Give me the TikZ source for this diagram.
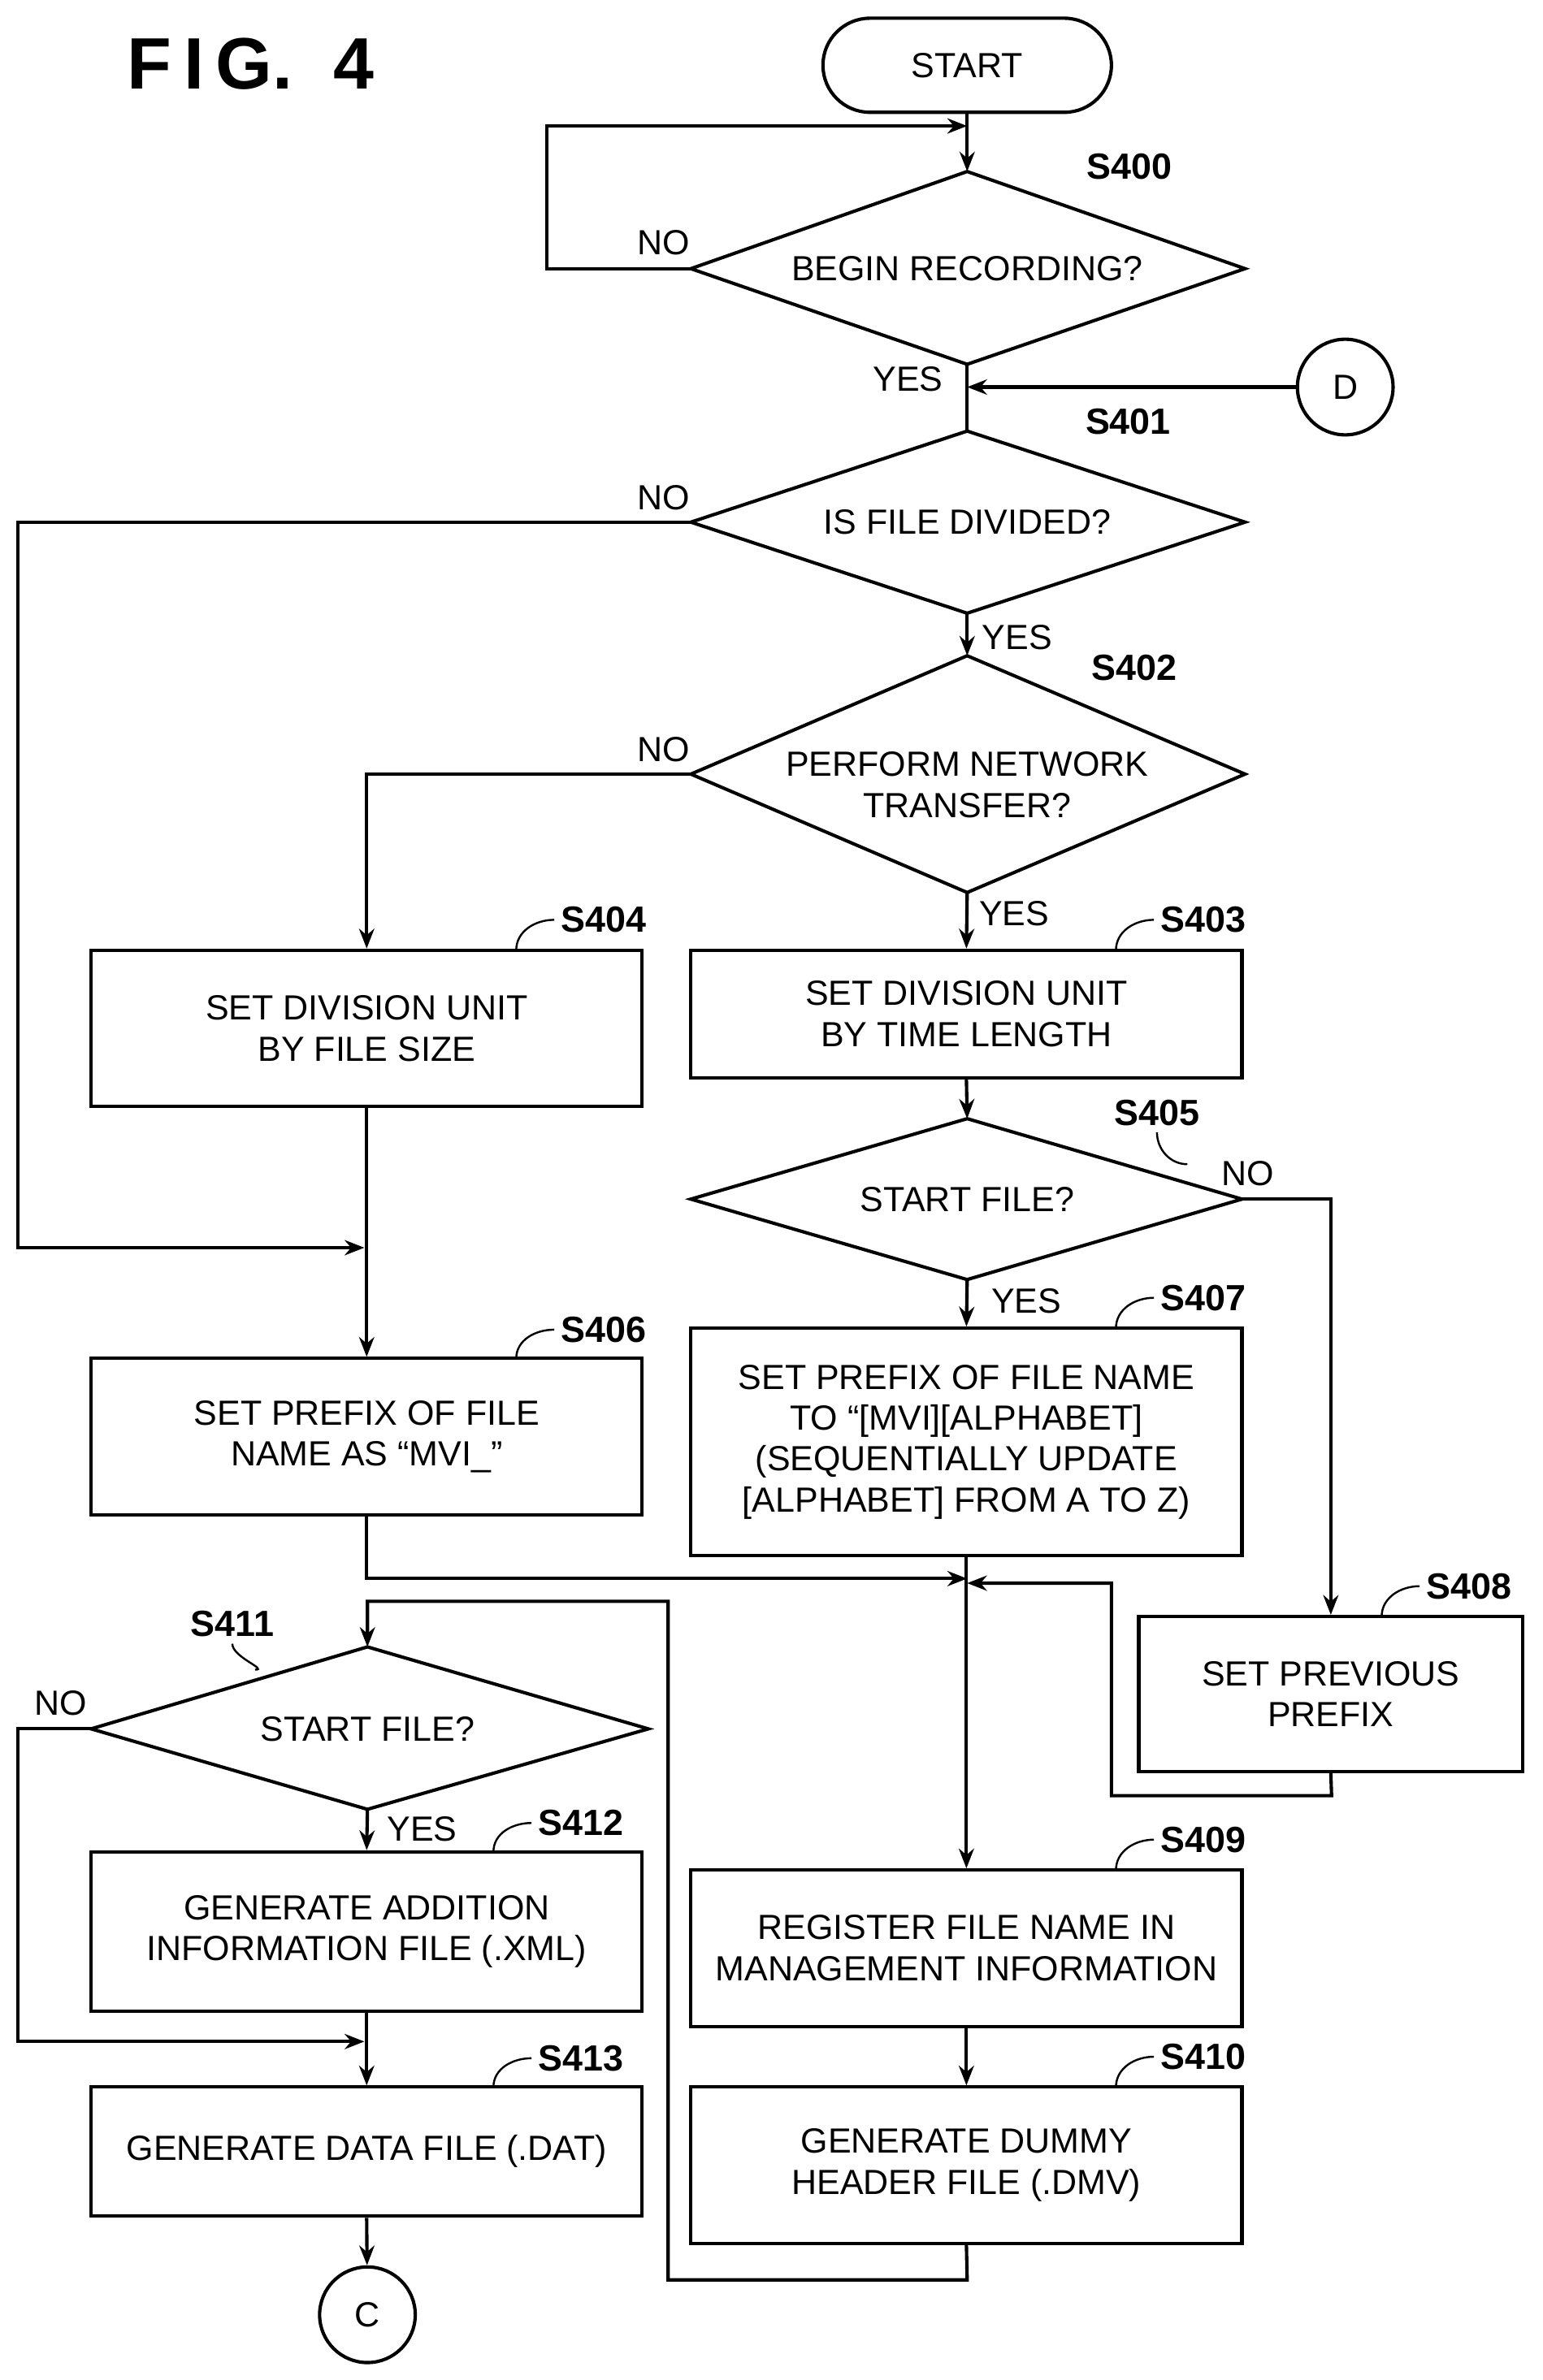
\documentclass[tikz,border=0pt]{standalone}
\usepackage{fontspec}
\setmainfont{Liberation Sans}
\usetikzlibrary{shapes.geometric,arrows.meta}
\begin{document}
\begin{tikzpicture}[x=1pt,y=-1pt,line width=2.2pt,
  every node/.style={font=\fontsize{23}{27}\selectfont},
  box/.style={draw,minimum width=#1,align=center,inner sep=0},
  dia/.style={draw,diamond,aspect=2.9,inner sep=0,align=center},
  lab/.style={font=\bfseries\fontsize{24}{28}\selectfont},
  arr/.style={-{Stealth[length=13pt,width=10pt]}},
  lead/.style={line width=1.3pt}]
\useasboundingbox (0,0) rectangle (1016,1568);
\node[font=\bfseries\fontsize{48}{50}\selectfont] (fig) at (165,42) {F\,I\,G.\ \ 4};
% nodes
\node[draw,rounded corners=31pt,minimum width=190pt,minimum height=62pt] (start) at (637,43) {START};
\draw (637,113) -- (820,177) -- (637,240) -- (455,177) -- cycle;
\node (s400) at (637,177) {BEGIN RECORDING?};
\coordinate (s400t) at (637,113); \coordinate (s400l) at (455,177); \coordinate (s400b) at (637,240);
\draw (637,284) -- (820,344) -- (637,404) -- (455,344) -- cycle;
\node (s401) at (637,344) {IS FILE DIVIDED?};
\coordinate (s401t) at (637,284); \coordinate (s401l) at (455,344); \coordinate (s401b) at (637,404);
\draw (637,432) -- (820,510) -- (637,588) -- (455,510) -- cycle;
\node[align=center] (s402) at (637,517) {PERFORM NETWORK\\TRANSFER?};
\coordinate (s402t) at (637,432); \coordinate (s402l) at (455,510); \coordinate (s402b) at (637,588);
\draw (637,737) -- (818,790) -- (637,843) -- (455,790) -- cycle;
\node (s405) at (637,790) {START FILE?};
\coordinate (s405t) at (637,737); \coordinate (s405r) at (818,790); \coordinate (s405b) at (637,843);
\draw (242,1085) -- (427,1139) -- (242,1192) -- (60,1139) -- cycle;
\node (s411) at (242,1139) {START FILE?};
\coordinate (s411t) at (242,1085); \coordinate (s411l) at (60,1139); \coordinate (s411b) at (242,1192);
\node[draw,circle,minimum size=63pt,inner sep=0] (D) at (886,255) {D};
\node[draw,circle,minimum size=63pt,inner sep=0] (C) at (242,1525) {C};
\node[box=363pt,minimum height=103pt] (s404) at (241.5,677.5) {SET DIVISION UNIT\\BY FILE SIZE};
\node[box=363pt,minimum height=84pt] (s403) at (636.5,668) {SET DIVISION UNIT\\BY TIME LENGTH};
\node[box=363pt,minimum height=103pt] (s406) at (241.5,946.5) {SET PREFIX OF FILE\\NAME AS “MVI\_”};
\node[box=363pt,minimum height=150pt] (s407) at (636.5,950) {SET PREFIX OF FILE NAME\\TO “[MVI][ALPHABET]\\(SEQUENTIALLY UPDATE\\{}[ALPHABET] FROM A TO Z)};
\node[box=253pt,minimum height=102pt] (s408) at (876.5,1116) {SET PREVIOUS\\PREFIX};
\node[box=363pt,minimum height=103pt] (s409) at (636.5,1283.5) {REGISTER FILE NAME IN\\MANAGEMENT INFORMATION};
\node[box=363pt,minimum height=103pt] (s410) at (636.5,1426.5) {GENERATE DUMMY\\HEADER FILE (.DMV)};
\node[box=363pt,minimum height=105pt] (s412) at (241.5,1272.5) {GENERATE ADDITION\\INFORMATION FILE (.XML)};
\node[box=363pt,minimum height=85pt] (s413) at (241.5,1417.5) {GENERATE DATA FILE (.DAT)};
% coordinates
\coordinate (j1) at (240,822);
\coordinate (m1) at (637,1040);
\coordinate (m2) at (637,1043);
\coordinate (j2) at (240,1345);
% connectors
\draw[arr] (start) -- (s400t);
\draw[arr] (s400l) -- (360,177) -- (360,83) -- (637,83);
\draw (s400b) -- (s401t);
\draw[arr] (D) -- (637,255);
\draw[arr] (s401b) -- (s402t);
\draw[arr] (s401l) -- (12,344) -- (12,822) -- (j1);
\draw[arr] (s402l) -| (s404.north);
\draw[arr] (s402b) -- (s403.north);
\draw[arr] (s403.south) -- (s405t);
\draw[arr] (s405r) -| (s408.north);
\draw[arr] (s405b) -- (s407.north);
\draw[arr] (s404.south) -- (s406.north);
\draw[arr] (s406.south) |- (m1);
\draw[arr] (s407.south) -- (s409.north);
\draw[arr] (s408.south) -- (877,1183) -- (732,1183) -- (732,1043) -- (m2);
\draw[arr] (s409) -- (s410);
\draw[arr] (s410.south) -- (637,1502) -- (440,1502) -- (440,1055) -- (242,1055) -- (s411t);
\draw[arr] (s411l) -- (12,1139) -- (12,1345) -- (j2);
\draw[arr] (s411b) -- (s412.north);
\draw[arr] (s412.south) -- (s413.north);
\draw[arr] (s413.south) -- (C);
% branch labels
\node at (437,160) {NO};
\node at (598,250) {YES};
\node at (437,328) {NO};
\node at (670,420) {YES};
\node at (437,494) {NO};
\node at (668,602) {YES};
\node at (822,773) {NO};
\node at (676,857) {YES};
\node at (40,1122) {NO};
\node at (278,1205) {YES};
% step labels
\node[lab] (l400) at (744,110) {S400};
\node[lab] (l401) at (743,278) {S401};
\node[lab] (l402) at (747,440) {S402};
\node[lab,anchor=west] (l404) at (365,606) {S404};
\node[lab,anchor=west] (l403) at (760,606) {S403};
\node[lab] (l405) at (762,733) {S405};
\node[lab,anchor=west] (l406) at (365,876) {S406};
\node[lab,anchor=west] (l407) at (760,855) {S407};
\node[lab,anchor=west] (l408) at (935,1045) {S408};
\node[lab,anchor=west] (l409) at (760,1212) {S409};
\node[lab,anchor=west] (l410) at (760,1355) {S410};
\node[lab] (l411) at (153,1070) {S411};
\node[lab,anchor=west] (l412) at (350,1201) {S412};
\node[lab,anchor=west] (l413) at (350,1356) {S413};
% leaders
\draw[lead] (l404.west) to[out=180,in=90] (340,626);
\draw[lead] (l403.west) to[out=180,in=90] (735,626);
\draw[lead] (l406.west) to[out=180,in=90] (340,895);
\draw[lead] (l407.west) to[out=180,in=90] (735,875);
\draw[lead] (l408.west) to[out=180,in=90] (910,1065);
\draw[lead] (l409.west) to[out=180,in=90] (735,1232);
\draw[lead] (l410.west) to[out=180,in=90] (735,1375);
\draw[lead] (l412.west) to[out=180,in=90] (325,1220);
\draw[lead] (l413.west) to[out=180,in=90] (325,1375);
\draw[lead] (l405.south) to[out=-90,in=180] (782,767);
\draw[lead] (l411.south) to[out=-90,in=0] (168,1100);
\end{tikzpicture}
\end{document}
